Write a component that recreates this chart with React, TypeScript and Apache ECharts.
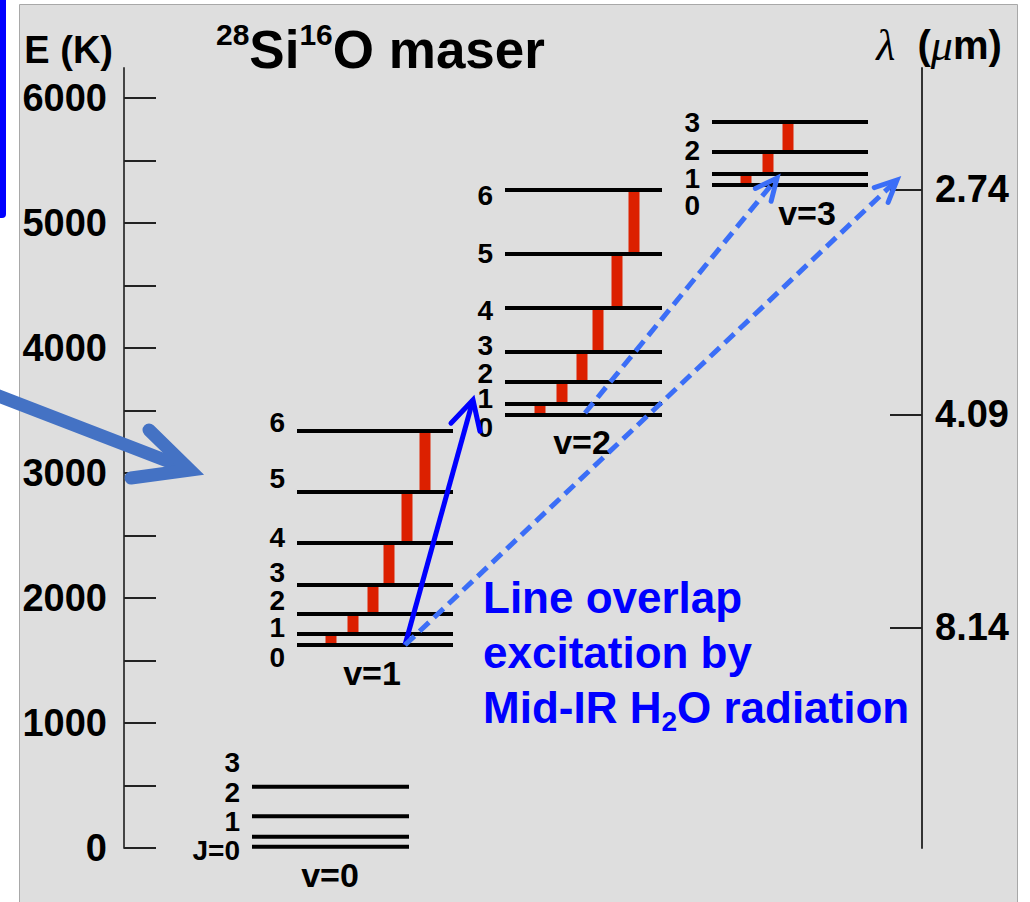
import React, { useEffect, useRef } from 'react';
import * as echarts from 'echarts';

const FONT = '"Liberation Sans", Arial, Helvetica, sans-serif';

// ---- Energy axis (K) ----
const energyTickValues = [0, 500, 1000, 1500, 2000, 2500, 3000, 3500, 4000, 4500, 5000, 5500, 6000];
const energyLabelValues = [0, 1000, 2000, 3000, 4000, 5000, 6000];

// ---- Wavelength axis (μm) ----
const wavelengthLabels = ['2.74', '4.09', '8.14'];
const wavelengthEnergies = [5270, 3470, 1765];

// ---- Vibrational bands and rotational levels (E in K) ----
const bandNames = ['v=0', 'v=1', 'v=2', 'v=3'];
const v0Energies = [10, 90, 255, 490];
const v1Energies = [1624, 1712, 1872, 2104, 2440, 2848, 3336];
const v2Energies = [3464, 3552, 3728, 3968, 4320, 4752, 5264];
const v3Energies = [5304, 5392, 5568, 5808];
const v0JLabels = ['J=0', '1', '2', '3'];
const v1JLabels = ['0', '1', '2', '3', '4', '5', '6'];
const v2JLabels = ['0', '1', '2', '3', '4', '5', '6'];
const v3JLabels = ['0', '1', '2', '3'];
// energies at which the J labels sit (they are spread out in the drawing)
const v0LabelEnergies = [-16, 216, 448, 688];
const v1LabelEnergies = [1528, 1768, 1984, 2208, 2488, 2960, 3408];
const v2LabelEnergies = [3368, 3600, 3800, 4024, 4304, 4760, 5224];
const v3LabelEnergies = [5144, 5360, 5584, 5808];
const bandHasMaser = [false, true, true, true];

// ---- Line-overlap pumping arrows (from E, to E) ----
const arrowFromE = [1624, 3480, 1624];
const arrowToE = [3584, 5360, 5344];
const arrowDashed = [false, true, true];

// ---- layout (horizontal diagram units) ----
const COLS = [
  { x0: 128, x1: 285, labelX: 116, nameX: 206, nameE: -216, barX: [] as number[] },
  { x0: 173, x1: 329, labelX: 161, nameX: 248, nameE: 1400, barX: [207, 229, 249, 265, 283, 301] },
  { x0: 381, x1: 538, labelX: 369, nameX: 458, nameE: 3248, barX: [416, 438, 458, 474, 493, 510] },
  { x0: 588, x1: 744, labelX: 576, nameX: 683, nameE: 5080, barX: [622, 644, 664] },
];
const ARROW_X = [[281, 349], [461, 653], [281, 773]];

const bandEnergies = [v0Energies, v1Energies, v2Energies, v3Energies];
const bandLabels = [v0JLabels, v1JLabels, v2JLabels, v3JLabels];
const bandLabelE = [v0LabelEnergies, v1LabelEnergies, v2LabelEnergies, v3LabelEnergies];

export default function App() {
  const ref = useRef<HTMLDivElement>(null);

  useEffect(() => {
    if (!ref.current) return;
    const chart = echarts.init(ref.current, undefined, { renderer: 'svg' });

    const levelItems: { value: number[]; label: string }[] = [];
    bandEnergies.forEach((arr, b) => {
      arr.forEach((e, j) => {
        levelItems.push({ value: [b, j, e, bandLabelE[b][j]], label: bandLabels[b][j] });
      });
    });

    const barItems: number[][] = [];
    bandEnergies.forEach((arr, b) => {
      if (!bandHasMaser[b]) return;
      for (let j = 0; j < arr.length - 1; j++) barItems.push([b, j, arr[j], arr[j + 1]]);
    });

    const bandItems = bandNames.map((n, b) => [b, COLS[b].nameE]);
    const arrowItems = arrowFromE.map((e, i) => [i, e, arrowToE[i]]);

    const option: any = {
      animation: false,
      backgroundColor: '#ffffff',
      title: {
        text: '{sup|28}{b|Si}{sup|16}{b|O maser}',
        left: 216,
        top: 19,
        padding: 0,
        textStyle: {
          rich: {
            b: { fontFamily: FONT, fontWeight: 'bold', fontSize: 53, lineHeight: 60, color: '#000' },
            sup: { fontFamily: FONT, fontWeight: 'bold', fontSize: 30, lineHeight: 34, verticalAlign: 'top', color: '#000' },
          },
        },
      },
      grid: { left: 124, right: 108, top: 68, bottom: 54, containLabel: false },
      xAxis: { type: 'value', min: 0, max: 798, show: false },
      yAxis: [
        {
          type: 'value',
          position: 'left',
          min: 0,
          max: 6240,
          name: 'E (K)',
          nameLocation: 'end',
          nameGap: 18,
          nameTextStyle: {
            fontFamily: FONT, fontWeight: 'bold', fontSize: 38, color: '#000',
            align: 'right', verticalAlign: 'middle', padding: [0, 11, 0, 0],
          },
          axisLine: { show: true, lineStyle: { color: '#444', width: 2 } },
          axisTick: { show: true, inside: true, length: 32, customValues: energyTickValues, lineStyle: { color: '#222', width: 2 } },
          axisLabel: {
            customValues: energyLabelValues,
            formatter: (v: number) => String(v),
            fontFamily: FONT, fontWeight: 'bold', fontSize: 38, color: '#000', margin: 17,
          },
          splitLine: { show: false },
        },
        {
          type: 'value',
          position: 'right',
          min: 0,
          max: 6240,
          name: '{i|λ}{r|  (}{i|μ}{r|m)}',
          nameLocation: 'end',
          nameGap: 23,
          nameTextStyle: {
            align: 'center', verticalAlign: 'middle', padding: [0, 0, 0, 34],
            rich: {
              i: { fontFamily: '"Liberation Serif", "DejaVu Serif", serif', fontStyle: 'italic', fontSize: 44, color: '#000' },
              r: { fontFamily: FONT, fontWeight: 'bold', fontSize: 40, color: '#000' },
            },
          },
          axisLine: { show: true, lineStyle: { color: '#333', width: 2 } },
          axisTick: { show: true, inside: true, length: 32, customValues: wavelengthEnergies, lineStyle: { color: '#222', width: 2 } },
          axisLabel: {
            customValues: wavelengthEnergies,
            formatter: (v: number) => {
              const i = wavelengthEnergies.indexOf(v);
              return i >= 0 ? wavelengthLabels[i] : '';
            },
            fontFamily: FONT, fontWeight: 'bold', fontSize: 38, color: '#000', margin: 13,
          },
          splitLine: { show: false },
        },
      ],
      graphic: {
        elements: [
          {
            type: 'rect', z: -100, silent: true,
            shape: { x: 19.5, y: 4.5, width: 998, height: 910 },
            style: { fill: '#dedede', stroke: '#a8a8a8', lineWidth: 1 },
          },
          {
            type: 'rect', z: -90, silent: true,
            shape: { x: 0, y: 0, width: 6, height: 218, r: [0, 0, 4, 0] },
            style: { fill: '#0000ff' },
          },
          {
            type: 'polyline', z: 100, silent: true,
            shape: { points: [[-4, 395], [188, 469]] },
            style: { stroke: '#4472c4', lineWidth: 13, lineCap: 'round', fill: null },
          },
          {
            type: 'polyline', z: 100, silent: true,
            shape: { points: [[149, 430], [190, 470], [131, 478]] },
            style: { stroke: '#4472c4', lineWidth: 13, lineCap: 'round', lineJoin: 'miter', fill: null },
          },
          {
            type: 'text', z: 100, x: 483, y: 570,
            style: {
              text: 'Line overlap\nexcitation by\n{a|Mid-IR H}{s|2}{a|O radiation}',
              fontFamily: FONT, fontWeight: 'bold', fontSize: 44, lineHeight: 55, fill: '#0000ff',
              verticalAlign: 'top', align: 'left',
              rich: {
                a: { fontFamily: FONT, fontWeight: 'bold', fontSize: 44, lineHeight: 55, fill: '#0000ff' },
                s: { fontFamily: FONT, fontWeight: 'bold', fontSize: 28, lineHeight: 28, verticalAlign: 'bottom', fill: '#0000ff' },
              },
            },
          },
        ],
      },
      series: [
        {
          type: 'custom',
          name: 'maser transitions',
          clip: false,
          z: 3,
          data: barItems,
          renderItem: (params: any, api: any) => {
            const b = api.value(0);
            const j = api.value(1);
            const x = COLS[b].barX[j];
            const p0 = api.coord([x, api.value(2)]);
            const p1 = api.coord([x, api.value(3)]);
            return {
              type: 'rect',
              shape: { x: p0[0] - 5.5, y: p1[1], width: 11, height: p0[1] - p1[1] },
              style: { fill: '#dc2000' },
            };
          },
        },
        {
          type: 'custom',
          name: 'levels',
          clip: false,
          z: 4,
          data: levelItems.map((d) => d.value),
          renderItem: (params: any, api: any) => {
            const b = api.value(0);
            const e = api.value(2);
            const le = api.value(3);
            const c = COLS[b];
            const p1 = api.coord([c.x0, e]);
            const p2 = api.coord([c.x1, e]);
            const pl = api.coord([c.labelX, le]);
            return {
              type: 'group',
              children: [
                {
                  type: 'line',
                  shape: { x1: p1[0], y1: p1[1], x2: p2[0], y2: p2[1] },
                  style: { stroke: '#000', lineWidth: 4 },
                },
                {
                  type: 'text',
                  x: pl[0],
                  y: pl[1],
                  style: {
                    text: levelItems[params.dataIndex].label,
                    fontFamily: FONT, fontWeight: 'bold', fontSize: 28, lineHeight: 22, fill: '#000',
                    align: 'right', verticalAlign: 'middle',
                  },
                },
              ],
            };
          },
        },
        {
          type: 'custom',
          name: 'bands',
          clip: false,
          z: 4,
          data: bandItems,
          renderItem: (params: any, api: any) => {
            const b = api.value(0);
            const p = api.coord([COLS[b].nameX, api.value(1)]);
            return {
              type: 'text',
              x: p[0],
              y: p[1],
              style: {
                text: bandNames[b],
                fontFamily: FONT, fontWeight: 'bold', fontSize: 34, fill: '#000',
                align: 'center', verticalAlign: 'middle',
              },
            };
          },
        },
        {
          type: 'custom',
          name: 'line overlap',
          clip: false,
          z: 6,
          data: arrowItems,
          renderItem: (params: any, api: any) => {
            const i = api.value(0);
            const [xa, xb] = ARROW_X[i];
            const p0 = api.coord([xa, api.value(1)]);
            const p1 = api.coord([xb, api.value(2)]);
            const dx = p0[0] - p1[0];
            const dy = p0[1] - p1[1];
            const len = Math.hypot(dx, dy);
            const ux = dx / len;
            const uy = dy / len;
            const dashed = arrowDashed[i];
            const L = dashed ? 24 : 32;
            const a = ((dashed ? 25 : 28) * Math.PI) / 180;
            const rot = (s: number) => [
              p1[0] + L * (ux * Math.cos(s) - uy * Math.sin(s)),
              p1[1] + L * (ux * Math.sin(s) + uy * Math.cos(s)),
            ];
            const color = dashed ? '#3b6ef7' : '#0000ff';
            return {
              type: 'group',
              children: [
                {
                  type: 'line',
                  shape: { x1: p0[0], y1: p0[1], x2: p1[0], y2: p1[1] },
                  style: { stroke: color, lineWidth: 5, lineDash: dashed ? [13, 7] : null },
                },
                {
                  type: 'polyline',
                  shape: { points: [rot(a), [p1[0], p1[1]], rot(-a)] },
                  style: { stroke: color, lineWidth: 5, fill: null, lineJoin: 'miter', lineCap: 'round' },
                },
              ],
            };
          },
        },
      ],
    };

    chart.setOption(option);
    return () => chart.dispose();
  }, []);

  return <div ref={ref} style={{ position: 'absolute', left: 0, top: 0, width: 1030, height: 902 }} />;
}
